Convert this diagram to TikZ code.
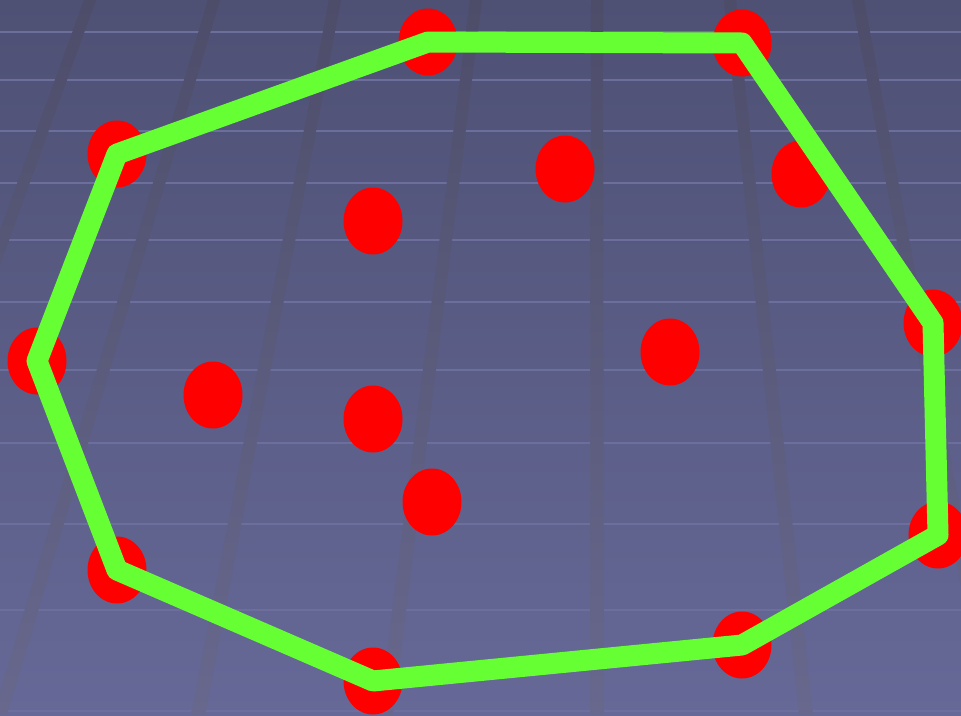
\documentclass[tikz,border=0pt]{standalone}
\usetikzlibrary{shapes.geometric}
\definecolor{bgtop}{RGB}{78,80,116}
\definecolor{bgbot}{RGB}{102,105,151}
\definecolor{bandtop}{RGB}{77,77,106}
\definecolor{bandbot}{RGB}{104,104,142}
\definecolor{hlinec}{RGB}{108,110,156}
\definecolor{hullgreen}{RGB}{102,255,51}
\tikzset{
  dot/.style={ellipse, fill=red, inner sep=0pt, minimum width=59pt, minimum height=67pt},
  hull/.style={draw=hullgreen, line width=21pt, line join=round},
  band/.style={top color=bandtop, bottom color=bandbot},
  gridline/.style={draw=hlinec, line width=2.5pt}
}
\begin{document}
\begin{tikzpicture}[x=1pt,y=-1pt]
\useasboundingbox (0,0) rectangle (961,715);
\shade[top color=bgtop, bottom color=bgbot] (0,0) rectangle (961,715);
\begin{scope}
  \clip (0,0) rectangle (961,715);
  \foreach \yy in {32,80,131,183,240,302,370,443,524,610,711}
    \draw[gridline] (0,\yy) -- (961,\yy);
  \foreach \a/\b in {90/-170, 214/0, 335/198, 476/386, 597/597, 730/806, 858/992}
    \shade[band] (\a-6,0) -- (\a+6,0) -- (\b+7,715) -- (\b-7,715) -- cycle;
\end{scope}
% points
\node[dot] (p1) at (428,42) {};
\node[dot] (p2) at (742,43) {};
\node[dot] (p3) at (117,154) {};
\node[dot] (p4) at (565,169) {};
\node[dot] (p5) at (801,174) {};
\node[dot] (p6) at (373,221) {};
\node[dot] (p7) at (933,323) {};
\node[dot] (p8) at (37,361) {};
\node[dot] (p9) at (670,352) {};
\node[dot] (p10) at (213,395) {};
\node[dot] (p11) at (373,419) {};
\node[dot] (p12) at (432,502) {};
\node[dot] (p13) at (938,535) {};
\node[dot] (p14) at (117,570) {};
\node[dot] (p15) at (742,645) {};
\node[dot] (p16) at (373,681) {};
% convex hull
\draw[hull] (p1.center) -- (p2.center) -- (p7.center) -- (p13.center) -- (p15.center)
  -- (p16.center) -- (p14.center) -- (p8.center) -- (p3.center) -- cycle;
\end{tikzpicture}
\end{document}
